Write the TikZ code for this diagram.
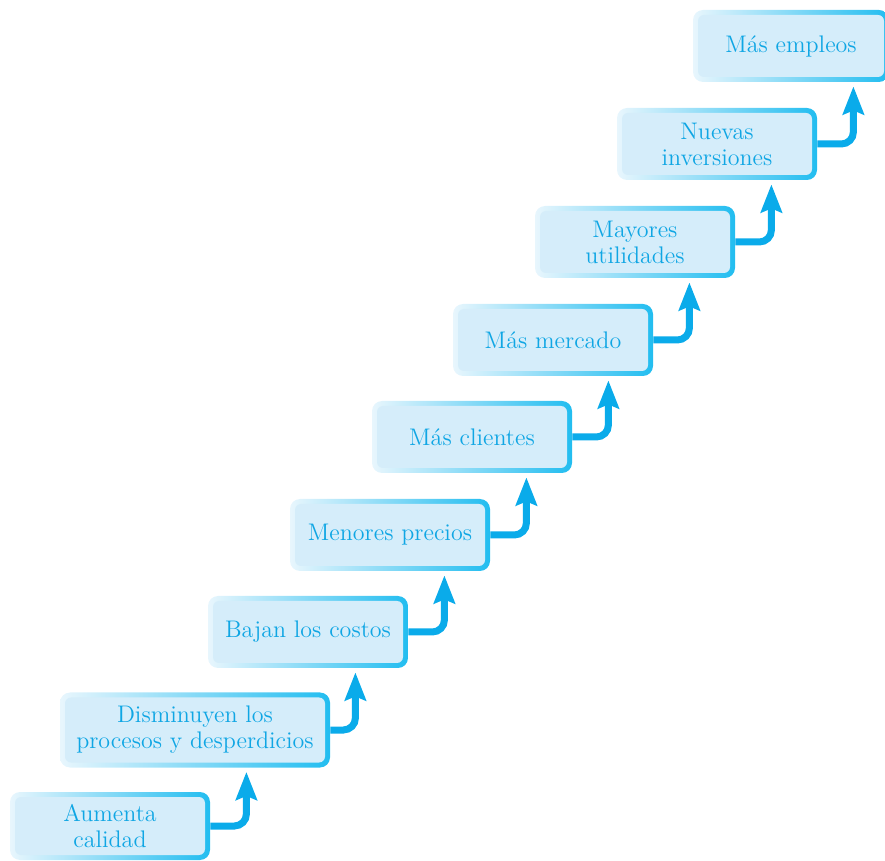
\documentclass[tikz,border=0pt]{standalone}
\usepackage{tikz}
\usetikzlibrary{arrows.meta, positioning, calc}
\usepackage{xcolor}

\definecolor{boxfill}{HTML}{D5EDFA}
\definecolor{edgepale}{HTML}{E8F6FD}
\definecolor{edgedark}{HTML}{22BDF0}
\definecolor{txtblue}{HTML}{0FA6E4}
\definecolor{arrowblue}{HTML}{0AABEA}

\tikzset{
  stepbox/.style={rounded corners=5pt, left color=edgepale, right color=edgedark,
    minimum width=100pt, minimum height=36pt, inner sep=0pt,
    text=txtblue, align=center, font=\fontsize{12}{13}\selectfont,
    path picture={\fill[boxfill, rounded corners=3pt]
      ($(path picture bounding box.south west)+(2.5pt,2.5pt)$) rectangle
      ($(path picture bounding box.north east)+(-2.5pt,-2.5pt)$);}},
  flow/.style={arrowblue, line width=3.5pt, rounded corners=6pt,
    -{Stealth[length=14pt, width=10.5pt, inset=2pt]}, shorten >=2pt}
}

\begin{document}
\begin{tikzpicture}[x=0.5pt, y=-0.5pt]
  \useasboundingbox (0,0) rectangle (885,861);
  % the steps
  \node[stepbox, minimum height=34pt] (n1) at (110,826) {Aumenta\\calidad};
  \node[stepbox, minimum width=135pt, minimum height=37.5pt] (n2) at (195,730) {Disminuyen los\\procesos y desperdicios};
  \node[stepbox] (n3) at (308,632) {Bajan los costos};
  \node[stepbox] (n4) at (390,535) {Menores precios};
  \node[stepbox] (n5) at (472,437) {Más clientes};
  \node[stepbox] (n6) at (553,340) {Más mercado};
  \node[stepbox] (n7) at (635,242) {Mayores\\utilidades};
  \node[stepbox] (n8) at (717,144) {Nuevas\\inversiones};
  \node[stepbox, minimum width=98pt] (n9) at (791,46) {Más empleos};
  % arrows between steps
  \draw[flow] (n1.east) -| ([xshift=18pt]n1.east |- n2.south);
  \draw[flow] (n2.east) -| ([xshift=12.5pt]n2.east |- n3.south);
  \draw[flow] (n3.east) -| ([xshift=18pt]n3.east |- n4.south);
  \draw[flow] (n4.east) -| ([xshift=18pt]n4.east |- n5.south);
  \draw[flow] (n5.east) -| ([xshift=18pt]n5.east |- n6.south);
  \draw[flow] (n6.east) -| ([xshift=18pt]n6.east |- n7.south);
  \draw[flow] (n7.east) -| ([xshift=18pt]n7.east |- n8.south);
  \draw[flow] (n8.east) -| ([xshift=18pt]n8.east |- n9.south);
\end{tikzpicture}
\end{document}
